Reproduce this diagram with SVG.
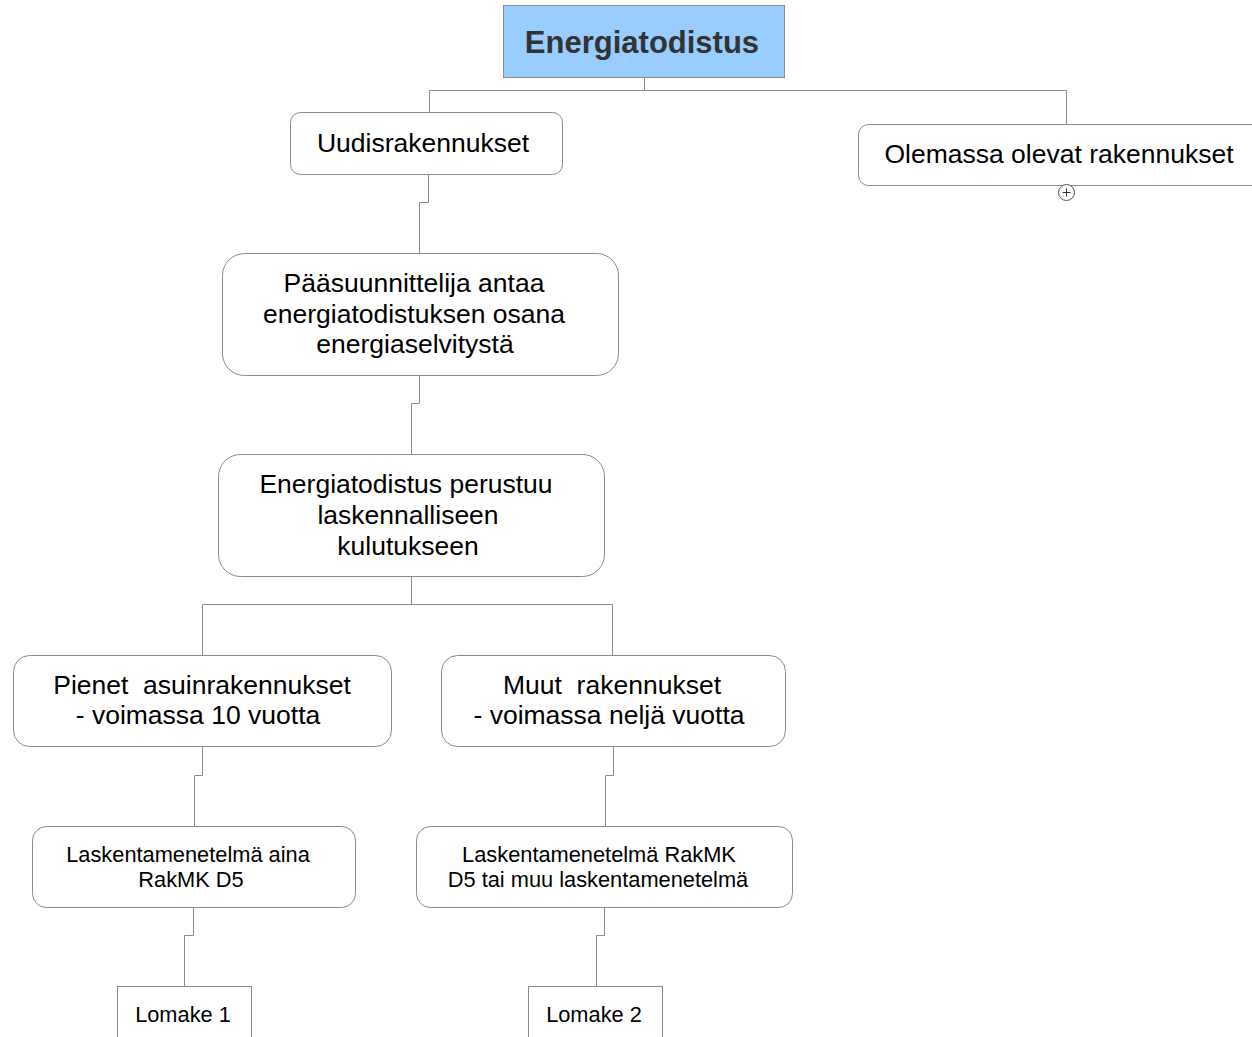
<svg xmlns="http://www.w3.org/2000/svg" width="1252" height="1037" viewBox="0 0 1252 1037">
<style>
.n{fill:#fff;stroke:#8a8a8a;stroke-width:1}
.t{font-family:"Liberation Sans",Arial,sans-serif;fill:#000;text-anchor:middle}
.L{font-size:26.5px}
.S{font-size:21.8px}
.c{fill:none;stroke:#8a8a8a;stroke-width:1}
</style>
<rect width="1252" height="1037" fill="#fff"/>
<g id="connectors">
<path class="c" d="M644.5 78V90.5M429.5 112V90.5H1066.5V124"/>
<path class="c" d="M428.5 174V202.5H419.5V253"/>
<path class="c" d="M419.5 375V403.5H411.5V454"/>
<path class="c" d="M411.5 577V604.5M202.5 655V604.5H612.5V655"/>
<path class="c" d="M202.5 747V775.5H194.5V826"/>
<path class="c" d="M193.5 907V935.5H184.5V986"/>
<path class="c" d="M613.5 747V775.5H605.5V826"/>
<path class="c" d="M604.5 907V935.5H596.5V986"/>
</g>
<g id="root">
<rect x="503.5" y="5.5" width="281" height="72" fill="#99ccff" stroke="#8a8a8a"/>
<text class="t" x="642" y="53" font-size="31" font-weight="bold" style="fill:#333">Energiatodistus</text>
</g>
<g id="uudis">
<rect class="n" x="290.5" y="112.5" width="272" height="62" rx="10"/>
<text class="t L" x="423" y="152">Uudisrakennukset</text>
</g>
<g id="olemassa">
<rect class="n" x="858.5" y="124.5" width="410" height="61" rx="10"/>
<text class="t L" x="1059" y="163">Olemassa olevat rakennukset</text>
<circle cx="1066.5" cy="192.5" r="8" fill="#fff" stroke="#555"/>
<path d="M1062.5 192.5H1070.5M1066.5 188.5V196.5" stroke="#333" fill="none"/>
</g>
<g id="paasuunnittelija">
<rect class="n" x="222.5" y="253.5" width="396" height="122" rx="22"/>
<text class="t L"><tspan x="414" y="292">Pääsuunnittelija antaa</tspan><tspan x="414" y="323">energiatodistuksen osana</tspan><tspan x="415" y="353">energiaselvitystä</tspan></text>
</g>
<g id="perustuu">
<rect class="n" x="218.5" y="454.5" width="386" height="122" rx="22"/>
<text class="t L"><tspan x="406" y="493">Energiatodistus perustuu</tspan><tspan x="408" y="524">laskennalliseen</tspan><tspan x="408" y="555">kulutukseen</tspan></text>
</g>
<g id="pienet">
<rect class="n" x="13.5" y="655.5" width="378" height="91" rx="16"/>
<text class="t L" xml:space="preserve"><tspan x="202" y="694">Pienet  asuinrakennukset</tspan><tspan x="198" y="724">- voimassa 10 vuotta</tspan></text>
</g>
<g id="muut">
<rect class="n" x="441.5" y="655.5" width="344" height="91" rx="16"/>
<text class="t L" xml:space="preserve"><tspan x="612" y="694">Muut  rakennukset</tspan><tspan x="609" y="724">- voimassa neljä vuotta</tspan></text>
</g>
<g id="laskenta1">
<rect class="n" x="32.5" y="826.5" width="323" height="81" rx="14"/>
<text class="t S"><tspan x="188" y="862">Laskentamenetelmä aina</tspan><tspan x="191" y="887">RakMK D5</tspan></text>
</g>
<g id="laskenta2">
<rect class="n" x="416.5" y="826.5" width="376" height="81" rx="14"/>
<text class="t S"><tspan x="599" y="862">Laskentamenetelmä RakMK</tspan><tspan x="598" y="887">D5 tai muu laskentamenetelmä</tspan></text>
</g>
<g id="lomake1">
<rect class="n" x="117.5" y="986.5" width="134" height="60"/>
<text class="t S" x="183" y="1022">Lomake 1</text>
</g>
<g id="lomake2">
<rect class="n" x="528.5" y="986.5" width="134" height="60"/>
<text class="t S" x="594" y="1022">Lomake 2</text>
</g>
</svg>
